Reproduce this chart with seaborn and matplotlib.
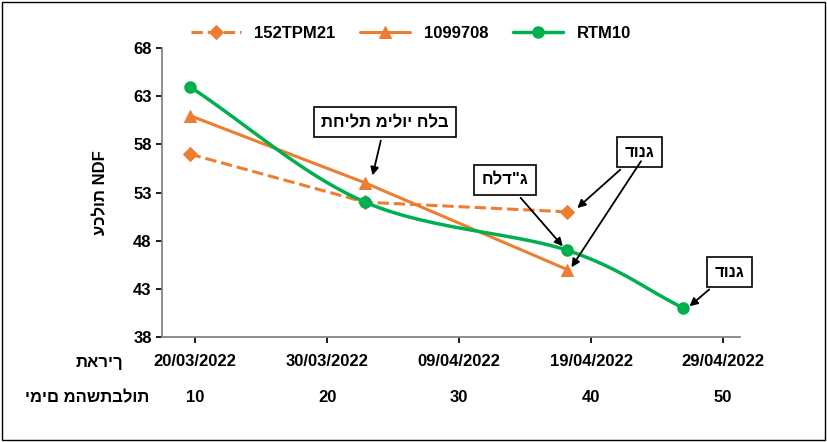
import numpy as np
import matplotlib
matplotlib.use("Agg")
import matplotlib.pyplot as plt
import seaborn as sns
from matplotlib.patches import Rectangle

# data
days_152 = [9.6, 22.9, 38.2]
ndf_152 = [57, 52, 51]
days_109 = [9.6, 22.9, 38.2]
ndf_109 = [61, 54, 45]
days_rtm = [9.6, 22.9, 38.2, 47.0]
ndf_rtm = [64, 52, 47, 41]
tick_days = [10, 20, 30, 40, 50]
tick_dates = ["20/03/2022", "30/03/2022", "09/04/2022", "19/04/2022", "29/04/2022"]

def smooth(xs, ys, n=40):
    # catmull-rom curve through the given points (line shape only)
    p = np.column_stack([xs, ys]).astype(float)
    p = np.vstack([2 * p[0] - p[1], p, 2 * p[-1] - p[-2]])
    out = []
    t = np.linspace(0, 1, n)[:, None]
    for i in range(1, len(p) - 2):
        p0, p1, p2, p3 = p[i - 1], p[i], p[i + 1], p[i + 2]
        seg = 0.5 * ((2 * p1) + (-p0 + p2) * t + (2 * p0 - 5 * p1 + 4 * p2 - p3) * t**2
                     + (-p0 + 3 * p1 - 3 * p2 + p3) * t**3)
        out.append(seg)
    c = np.vstack(out)
    return c[:, 0], c[:, 1]

sns.set_theme(style="white")
plt.rcParams["font.family"] = ["Liberation Sans", "DejaVu Sans"]
plt.rcParams["font.weight"] = "bold"
plt.rcParams["text.color"] = "black"
plt.rcParams["xtick.color"] = "black"
plt.rcParams["ytick.color"] = "black"
plt.rcParams["axes.labelcolor"] = "black"

fig = plt.figure(figsize=(8.27, 4.42), dpi=100)
ax = fig.add_axes([0.196, 0.2376, 0.699, 0.6534])
fig.patches.append(Rectangle((0.002, 0.004), 0.995, 0.992, transform=fig.transFigure,
                             fill=False, edgecolor="black", linewidth=1))

orange = "#ED7D31"
green = "#00B050"
sns.lineplot(x=days_152, y=ndf_152, ax=ax, color=orange, linestyle="--", linewidth=2.2,
             marker="D", markersize=7, markeredgecolor=orange, label="152TPM21")
sns.lineplot(x=days_109, y=ndf_109, ax=ax, color=orange, linewidth=2.2,
             marker="^", markersize=9, markeredgecolor=orange, label="1099708")
sx, sy = smooth(days_rtm, ndf_rtm)
ax.plot(sx, sy, color=green, linewidth=2.5)
ax.plot(days_rtm, ndf_rtm, color=green, linestyle="none", marker="o", markersize=8)
ax.plot([], [], color=green, linewidth=2.5, marker="o", markersize=8, label="RTM10")

ax.set_xlim(7.5, 51.3)
ax.set_ylim(38, 68)
ax.set_yticks(range(38, 69, 5))
ax.set_xticks(tick_days)
ax.set_xticklabels(tick_dates, fontsize=12, fontweight="bold")
ax.tick_params(axis="y", labelsize=12, length=4, direction="out", left=True)
ax.tick_params(axis="x", length=4, direction="out", bottom=True, pad=8)
for lab in ax.get_yticklabels():
    lab.set_fontweight("bold")
for s in ["top", "right"]:
    ax.spines[s].set_visible(False)
for s in ["left", "bottom"]:
    ax.spines[s].set_color("#808080")

ax.set_ylabel("עכלות NDF", fontsize=12, fontweight="bold", labelpad=18)

for d in tick_days:
    ax.text(d, -0.21, str(d), transform=ax.get_xaxis_transform(), ha="center", va="center",
            fontsize=12, fontweight="bold")
fig.text(0.12, 0.18, "תאריך", ha="center", va="center", fontsize=12, fontweight="bold")
fig.text(0.105, 0.10, "ימים מהשתבלות", ha="center", va="center", fontsize=12, fontweight="bold")

ax.legend(loc="upper center", bbox_to_anchor=(0.43, 1.13), ncol=3, frameon=False,
          prop={"weight": "bold", "size": 12}, handlelength=3, columnspacing=1.5)

box = dict(boxstyle="square,pad=0.45", fc="white", ec="black", lw=1.2)
arrow = dict(arrowstyle="-|>", color="black", lw=1.3)
ax.annotate("תחילת מילוי חלב", xy=(23.4, 54.5), xytext=(24.4, 60.3), ha="center", va="center",
            fontsize=12, fontweight="bold", bbox=box, arrowprops=arrow)
ax.annotate('חלד"ג', xy=(38.0, 47.2), xytext=(33.5, 54.3), ha="center", va="center",
            fontsize=12, fontweight="bold", bbox=box, arrowprops=arrow)
ax.annotate("דונג", xy=(38.8, 51.2), xytext=(43.7, 57.2), ha="center", va="center",
            fontsize=12, fontweight="bold", bbox=box, arrowprops=arrow)
ax.annotate("", xy=(38.4, 45.0), xytext=(43.9, 56.5), arrowprops=arrow)
ax.annotate("דונג", xy=(47.3, 41.0), xytext=(50.5, 44.75), ha="center", va="center",
            fontsize=12, fontweight="bold", bbox=box, arrowprops=arrow)

fig.savefig("out.png", dpi=100)
